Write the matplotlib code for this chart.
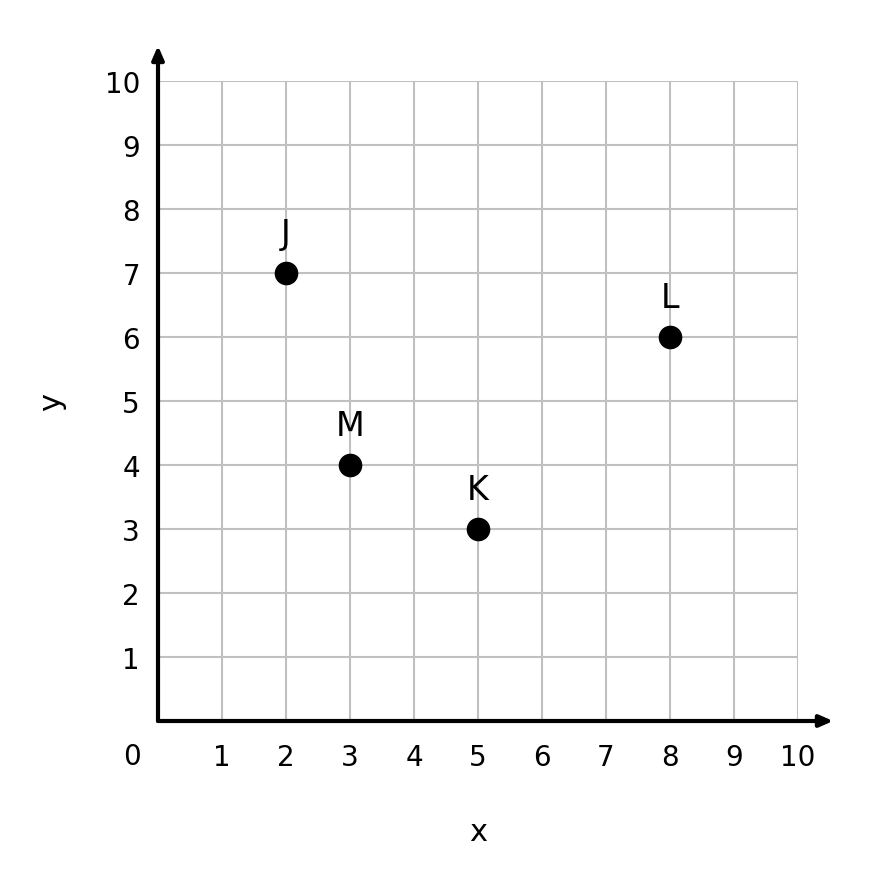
import matplotlib
matplotlib.use("Agg")
import matplotlib.pyplot as plt

# ── Data ──────────────────────────────────────
names = ["J", "K", "L", "M"]
xs = [2, 5, 8, 3]
ys = [7, 3, 6, 4]
ticks = list(range(1, 11))

fig = plt.figure(figsize=(8.79, 8.79), dpi=100)
ax = fig.add_axes([158/879, 157/879, 640/879, 640/879])
ax.set_xlim(0, 10)
ax.set_ylim(0, 10)

for s in ax.spines.values():
    s.set_visible(False)

ax.set_xticks(ticks)
ax.set_yticks(ticks)
ax.tick_params(length=0, labelsize=20, colors="black")
ax.tick_params(axis="x", pad=16)
ax.tick_params(axis="y", pad=13)
ax.grid(True, color="#c0c0c0", linewidth=1.5)
ax.set_axisbelow(True)

# axes with arrows
arrow = dict(arrowstyle="-|>,head_length=0.8,head_width=0.35", color="black", lw=3,
             shrinkA=0, shrinkB=0)
ax.annotate("", xy=(10.55, 0), xytext=(0, 0), arrowprops=arrow, annotation_clip=False)
ax.annotate("", xy=(0, 10.55), xytext=(0, 0), arrowprops=arrow, annotation_clip=False)

ax.text(-0.4, -0.55, "0", fontsize=20, ha="center", va="center")
ax.text(5, -1.72, "x", fontsize=22, ha="center", va="center")
ax.text(-1.66, 5, "y", fontsize=22, ha="center", va="center", rotation=90)

ax.plot(xs, ys, "o", color="black", markersize=16, clip_on=False, zorder=5)
for n, x, y in zip(names, xs, ys):
    ax.text(x, y + 0.62, n, fontsize=24, ha="center", va="center")

fig.savefig("out.png", dpi=100)
